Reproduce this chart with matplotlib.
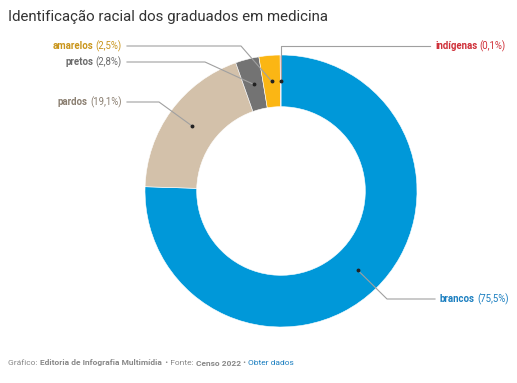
import numpy as np
import matplotlib.pyplot as plt

plt.rcParams['font.family'] = ['Roboto', 'DejaVu Sans']

# data
groups = ['brancos', 'pardos', 'pretos', 'amarelos', 'indígenas']
shares = [75.5, 19.1, 2.8, 2.5, 0.1]
share_labels = ['(75,5%)', '(19,1%)', '(2,8%)', '(2,5%)', '(0,1%)']
colors = ['#0098d9', '#d3c1aa', '#737373', '#fbb614', '#d9363e']
label_colors = ['#1b7fc0', '#8a7e70', '#6b6b6b', '#c9951b', '#cf2f38']

W, H = 517, 383
fig = plt.figure(figsize=(W / 100, H / 100), dpi=100)

def px(x, y):
    return x / W, 1 - y / H

cx, cy, r = 281, 191, 136
ax = fig.add_axes([(cx - r) / W, (H - cy - r) / H, 2 * r / W, 2 * r / H])
wedges, _ = ax.pie(shares, colors=colors, startangle=90, counterclock=False,
                   radius=1, wedgeprops=dict(width=0.38, edgecolor='white', linewidth=0.4))
ax.set_xlim(-1, 1)
ax.set_ylim(-1, 1)
ax.set_aspect('equal')
ax.axis('off')

# elbow / label anchor points in pixels: (elbow, line end, label side)
layout = {
    'brancos': ((387, 299), (435, 299), 'left'),
    'pardos': ((159, 102), (127, 102), 'right'),
    'pretos': ((205, 62), (127, 62), 'right'),
    'amarelos': ((241, 46), (127, 46), 'right'),
    'indígenas': (None, (430, 46), 'left'),
}

fig.canvas.draw()
renderer = fig.canvas.get_renderer()
fs = 6.9
line_c = '#a0a0a0'

for i, w in enumerate(wedges):
    name = groups[i]
    ang = np.deg2rad((w.theta1 + w.theta2) / 2)
    dx, dy = 0.81 * np.cos(ang), 0.81 * np.sin(ang)
    # dot in pixel coords
    dpx = ax.transData.transform((dx, dy))
    dot = (dpx[0], H - dpx[1])
    elbow, end, side = layout[name]
    if elbow is None:
        elbow = (dot[0], end[1])
    pts = [dot, elbow, end]
    xs = [p[0] / W for p in pts]
    ys = [1 - p[1] / H for p in pts]
    fig.add_artist(plt.Line2D(xs, ys, color=line_c, lw=0.8, transform=fig.transFigure))
    fig.add_artist(plt.Line2D([xs[0]], [ys[0]], marker='o', ms=1.8, color='#222222',
                              transform=fig.transFigure))
    gap = 5
    if side == 'right':
        x0, y0 = px(end[0] - gap, end[1])
        t2 = fig.text(x0, y0, share_labels[i], fontsize=fs, color=label_colors[i],
                      ha='right', va='center')
        bb = t2.get_window_extent(renderer)
        fig.text((bb.x0 - 2.5) / W, y0, name, fontsize=fs, color=label_colors[i],
                 fontweight='bold', ha='right', va='center')
    else:
        x0, y0 = px(end[0] + gap, end[1])
        t1 = fig.text(x0, y0, name, fontsize=fs, color=label_colors[i],
                      fontweight='bold', ha='left', va='center')
        bb = t1.get_window_extent(renderer)
        fig.text((bb.x1 + 2.5) / W, y0, share_labels[i], fontsize=fs,
                 color=label_colors[i], ha='left', va='center')

fig.text(*px(8, 17), 'Identificação racial dos graduados em medicina', fontsize=10.8,
         color='#333333', ha='left', va='center')

# footer
parts = [('Gráfico: ', 'normal', '#888888'),
         ('Editoria de Infografia Multimídia', 'bold', '#888888'),
         ('  • Fonte: ', 'normal', '#888888'),
         ('Censo 2022', 'bold', '#888888'),
         (' • ', 'normal', '#888888'),
         ('Obter dados', 'normal', '#1b7fc0')]
x = 8
for txt, wt, c in parts:
    t = fig.text(*px(x, 363), txt, fontsize=6.0, fontweight=wt, color=c,
                 ha='left', va='center')
    bb = t.get_window_extent(renderer)
    x = bb.x1

fig.savefig('out.png', dpi=100)
